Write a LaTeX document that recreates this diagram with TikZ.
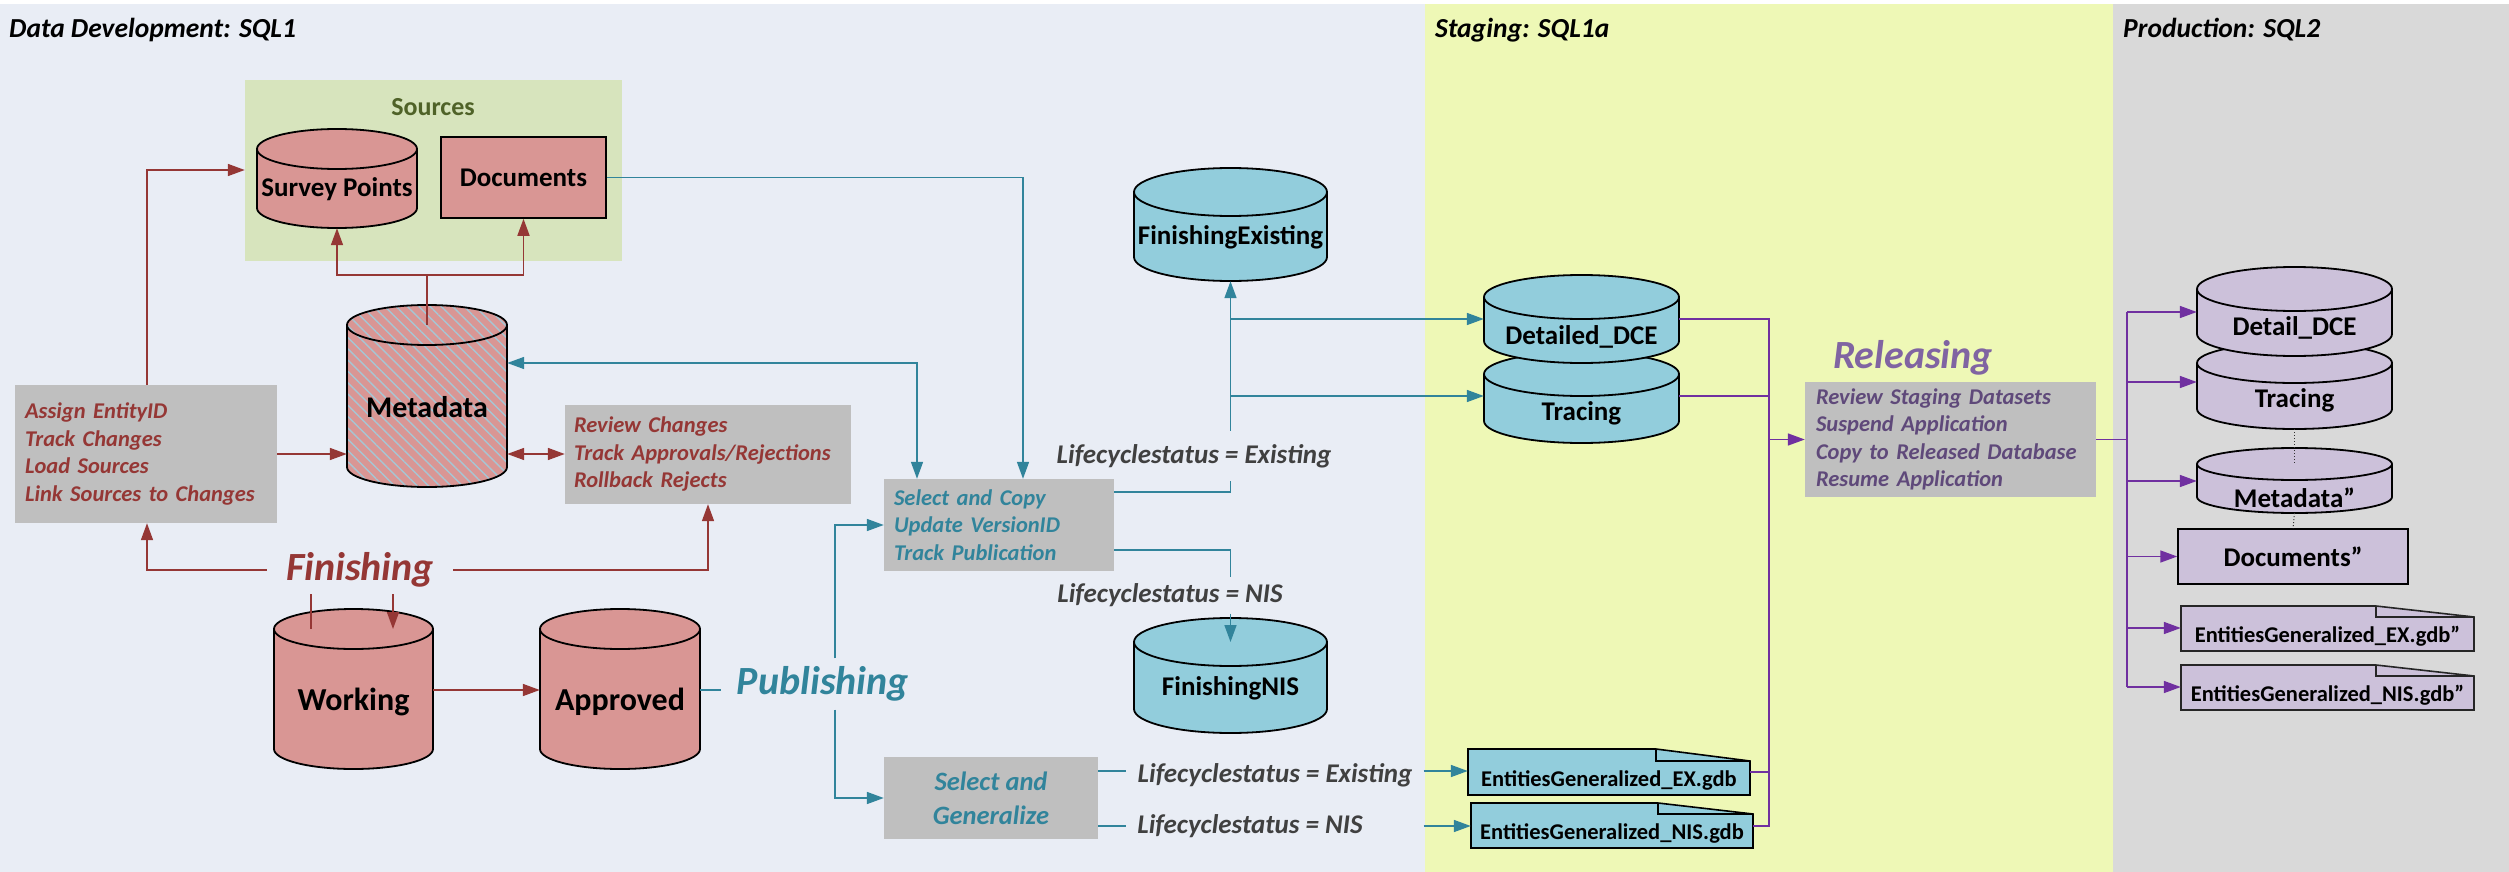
\documentclass[tikz,border=0pt]{standalone}
\usepackage{fontspec}
\setmainfont{Carlito}
\usetikzlibrary{arrows.meta,patterns.meta}

\definecolor{devbg}{HTML}{E9EDF5}
\definecolor{stagebg}{HTML}{EEF8B6}
\definecolor{prodbg}{HTML}{D9D9D9}
\definecolor{srcbg}{HTML}{D7E4BD}
\definecolor{srctxt}{HTML}{4F6228}
\definecolor{pinkc}{HTML}{D99694}
\definecolor{redc}{HTML}{953735}
\definecolor{hatchc}{HTML}{A6C6D4}
\definecolor{greyc}{HTML}{BFBFBF}
\definecolor{tealc}{HTML}{31849B}
\definecolor{bluec}{HTML}{92CDDC}
\definecolor{purc}{HTML}{7030A0}
\definecolor{lavc}{HTML}{CCC1DA}
\definecolor{relhead}{HTML}{8064A2}
\definecolor{reltxt}{HTML}{5F497A}
\definecolor{lblc}{HTML}{404040}

\tikzset{
  tip/.tip={Triangle[length=17pt,width=12pt]},
  redln/.style={draw=redc, line width=1.6pt},
  redar/.style={redln, -tip},
  redar2/.style={redln, tip-tip},
  tealln/.style={draw=tealc, line width=1.6pt},
  tealar/.style={tealln, -tip},
  tealar2/.style={tealln, tip-tip},
  purln/.style={draw=purc, line width=1.6pt},
  purar/.style={purln, -tip},
  dotln/.style={draw=black!80, line width=1pt, dotted},
  cylrim/.style={draw=black, line width=1.8pt},
  pinkbody/.style={fill=pinkc, draw=black, line width=1.8pt},
  bluebody/.style={fill=bluec, draw=black, line width=1.8pt},
  lavbody/.style={fill=lavc, draw=black, line width=1.8pt},
  hatchbody/.style={preaction={fill=pinkc},
    preaction={pattern={Lines[angle=-45,distance=8pt,line width=1.4pt]}, pattern color=hatchc},
    draw=black, line width=1.8pt},
  bluedoc/.style={fill=bluec, draw=black, line width=1.6pt},
  lavdoc/.style={fill=lavc, draw=black!85, line width=1.6pt},
  dbtxt/.style={font=\fontsize{27}{32}\selectfont\bfseries, inner sep=0},
  doctxt/.style={font=\fontsize{22.5}{27}\selectfont\bfseries, inner sep=0},
  title/.style={font=\fontsize{27.5}{33}\selectfont\bfseries\itshape, inner sep=0},
  greybox/.style={fill=greyc, inner ysep=0, align=left,
    font=\fontsize{22.5}{27.5}\selectfont\bfseries\itshape},
  phase/.style={font=\fontsize{40}{48}\selectfont\bfseries\itshape, inner ysep=0},
  lc/.style={font=\fontsize{27}{32}\selectfont\bfseries\itshape, text=lblc, inner sep=0},
  pinkbox/.style={fill=pinkc, draw=black, line width=1.5pt, inner sep=0,
    font=\fontsize{27}{32}\selectfont\bfseries},
  lavbox/.style={fill=lavc, draw=black, line width=1.5pt, inner sep=0,
    font=\fontsize{27}{32}\selectfont\bfseries},
}

% database cylinder: name, left x, right x, top y, bottom y, end radius, body style, text y, text
\newcommand{\dbcyl}[9]{%
  \pgfmathsetmacro\cylcx{(#2+#3)/2}%
  \pgfmathsetmacro\cylkx{0.5523*(#3-#2)/2}%
  \pgfmathsetmacro\cylky{0.5523*#6}%
  \pgfmathsetmacro\cylya{#4+#6}%
  \pgfmathsetmacro\cylyb{#5-#6}%
  \pgfmathsetmacro\cylw{#3-#2}%
  \pgfmathsetmacro\cylh{#5-#4}%
  \path[#7] (#2,\cylya) -- (#2,\cylyb)
     .. controls (#2,\cylyb+\cylky) and (\cylcx-\cylkx,#5) .. (\cylcx,#5)
     .. controls (\cylcx+\cylkx,#5) and (#3,\cylyb+\cylky) .. (#3,\cylyb)
     -- (#3,\cylya)
     .. controls (#3,\cylya-\cylky) and (\cylcx+\cylkx,#4) .. (\cylcx,#4)
     .. controls (\cylcx-\cylkx,#4) and (#2,\cylya-\cylky) .. (#2,\cylya) -- cycle;
  \draw[cylrim] (#2,\cylya)
     .. controls (#2,\cylya+\cylky) and (\cylcx-\cylkx,\cylya+#6) .. (\cylcx,\cylya+#6)
     .. controls (\cylcx+\cylkx,\cylya+#6) and (#3,\cylya+\cylky) .. (#3,\cylya);
  \node[inner sep=0, minimum width=\cylw pt, minimum height=\cylh pt] (#1) at (\cylcx,{(#4+#5)/2}) {};
  \coordinate (#1-ti) at (\cylcx,\cylya);
  \node[dbtxt] (#1-t) at (\cylcx,#8) {#9};
}

% dataset file with folded corner: name, x1, y1, x2, y2, fold x, fold y, style, text
\newcommand{\gdbdoc}[9]{%
  \pgfmathsetmacro\docw{#4-#2}%
  \pgfmathsetmacro\doch{#5-#3}%
  \path[#8] (#2,#3) -- (#6,#3) -- (#4,#7) -- (#4,#5) -- (#2,#5) -- cycle;
  \draw[#8, fill=none] (#6,#3) -- (#6,#7) -- (#4,#7);
  \node[inner sep=0, minimum width=\docw pt, minimum height=\doch pt] (#1) at ({(#2+#4)/2},{(#3+#5)/2}) {};
  \node[doctxt] (#1-t) at ({(#2+#4)/2},{(#7+#5)/2+2}) {#9};
}

\begin{document}
\begin{tikzpicture}[x=1pt,y=-1pt]
\useasboundingbox (0,0) rectangle (2509,872);
\fill[white] (0,0) rectangle (2509,872);
\fill[devbg] (0,4) rectangle (1425,872);
\fill[stagebg] (1425,4) rectangle (2113,872);
\fill[prodbg] (2113,4) rectangle (2509,872);

% section titles
\node[title, anchor=base west] (ttldev) at (9,38) {Data Development: SQL1};
\node[title, anchor=base west] (ttlstg) at (1435,38) {Staging: SQL1a};
\node[title, anchor=base west] (ttlprd) at (2123,38) {Production: SQL2};

% ---------- data development ----------
\node[fill=srcbg, minimum width=377pt, minimum height=181pt, inner sep=0] (sources) at (433.5,170.5) {};
\node[font=\fontsize{26}{31}\selectfont\bfseries, text=srctxt, inner sep=0] (srclbl) at (433,107) {Sources};
\dbcyl{survey}{257}{417}{129}{228}{20}{pinkbody}{189}{Survey Points}
\node[pinkbox, minimum width=165pt, minimum height=81pt] (docs) at (523.5,177.5) {Documents};
\dbcyl{meta}{347}{507}{305}{487}{20}{hatchbody}{407}{\fontsize{30}{36}\selectfont Metadata}

\node[greybox, text=redc, minimum height=138pt, text width=242pt, inner xsep=10pt] (assign) at (146,454)
  {Assign EntityID\\Track Changes\\Load Sources\\Link Sources to Changes};
\node[greybox, text=redc, minimum height=99pt, text width=268pt, inner xsep=9pt] (review) at (708,454.5)
  {Review Changes\\Track Approvals/Rejections\\Rollback Rejects};

\node[phase, text=redc, inner xsep=19pt, minimum height=48pt] (fin) at (360,570) {Finishing};
\dbcyl{work}{274}{433}{609}{769}{20}{pinkbody}{702}{\fontsize{32}{38}\selectfont Working}
\dbcyl{appr}{540}{700}{609}{769}{20}{pinkbody}{702}{\fontsize{32}{38}\selectfont Approved}

\node[phase, text=tealc, inner xsep=16pt, minimum height=51pt] (pub) at (823,684) {Publishing};
\node[greybox, text=tealc, minimum height=92pt, text width=210pt, inner xsep=10pt] (selcopy) at (999,525)
  {Select and Copy\\Update VersionID\\Track Publication};
\node[greybox, text=tealc, font=\fontsize{26.5}{34}\selectfont\bfseries\itshape, align=center,
  minimum width=214pt, minimum height=82pt, inner xsep=0] (selgen) at (991,798) {Select and\\Generalize};

\dbcyl{finex}{1134}{1327}{168}{281}{24}{bluebody}{237}{FinishingExisting}
\dbcyl{finnis}{1134}{1327}{618}{733}{24}{bluebody}{688}{FinishingNIS}

\node[lc, minimum height=50pt] (lcex1) at (1194,456) {Lifecyclestatus = Existing};
\node[lc, minimum height=36pt] (lcnis1) at (1170,595.5) {Lifecyclestatus = NIS};
\node[lc, inner xsep=11pt] (lcex2) at (1275,775) {Lifecyclestatus = Existing};
\node[lc, inner xsep=11pt] (lcnis2) at (1250,826) {Lifecyclestatus = NIS};

% ---------- staging ----------
\dbcyl{trac}{1484}{1679}{352}{443}{22}{bluebody}{413}{Tracing}
\dbcyl{dce}{1484}{1679}{275}{363}{22}{bluebody}{337}{Detailed\_DCE}
\gdbdoc{exdoc}{1468}{749}{1750}{795}{1656}{761}{bluedoc}{EntitiesGeneralized\_EX.gdb}
\gdbdoc{nisdoc}{1471}{803}{1753}{848}{1658}{814}{bluedoc}{EntitiesGeneralized\_NIS.gdb}
\node[phase, text=relhead] (relhd) at (1913,358) {Releasing};
\node[greybox, text=reltxt, minimum height=115pt, text width=269pt, inner xsep=11pt] (rel) at (1950.5,439.5)
  {Review Staging Datasets\\Suspend Application\\Copy to Released Database\\Resume Application};

% ---------- production ----------
\dbcyl{ptrac}{2197}{2392}{343}{429}{20}{lavbody}{400}{Tracing}
\dbcyl{pdce}{2197}{2392}{267}{356}{22}{lavbody}{328}{Detail\_DCE}
\dbcyl{pmeta}{2197}{2392}{448}{513}{16}{lavbody}{498}{Metadata”}
\node[lavbox, minimum width=230pt, minimum height=55pt] (pdocs) at (2293,556.5) {Documents”};
\gdbdoc{pex}{2181}{606}{2474}{651}{2376}{617}{lavdoc}{EntitiesGeneralized\_EX.gdb”}
\gdbdoc{pnis}{2181}{665}{2474}{710}{2376}{676}{lavdoc}{EntitiesGeneralized\_NIS.gdb”}

% ---------- finishing connectors ----------
\draw[redar] (assign.north -| 147,0) |- (sources.west |- 0,170);
\draw[redar] (assign.east |- 0,454) -- (meta.west |- 0,454);
\draw[redar2] (meta.east |- 0,454) -- (review.west |- 0,454);
\draw[redln] (meta-ti) -- (meta-ti |- 0,275) coordinate (mj);
\draw[redar] (mj) -| (survey.south);
\draw[redar] (mj) -| (docs.south);
\draw[redar] (fin.west) -| (assign.south -| 147,0);
\draw[redar] (fin.east) -| (review.south);
\draw[redln] (fin.south -| 311,0) -- (work-ti -| 311,0);
\draw[redar] (fin.south -| 393,0) -- (work-ti -| 393,0);
\draw[redar] (work.east |- 0,690) -- (appr.west |- 0,690);

% ---------- publishing connectors ----------
\draw[tealar] (docs.east) -| (selcopy.north -| 1023,0);
\draw[tealar2] (meta.east |- 0,363) -| (selcopy.north -| 917,0);
\draw[tealln] (appr.east |- 0,690) -- (pub.west |- 0,690);
\draw[tealar] (pub.north -| 835,0) |- (selcopy.west);
\draw[tealar] (pub.south -| 835,0) |- (selgen.west);
\draw[tealln] (selcopy.east |- 0,492) -| (lcex1.south -| finex.south);
\draw[tealar] (lcex1.north -| finex.south) -- (finex.south);
\draw[tealar] (finex.south |- 0,319) -- (dce.west |- 0,319);
\draw[tealar] (finex.south |- 0,396) -- (trac.west |- 0,396);
\draw[tealln] (selcopy.east |- 0,550) -| (lcnis1.north -| finnis-ti);
\draw[tealar] (lcnis1.south -| finnis-ti) -- (finnis-ti);
\draw[tealln] (selgen.east |- 0,771) -- (lcex2.west |- 0,771);
\draw[tealar] (lcex2.east |- 0,771) -- (exdoc.west |- 0,771);
\draw[tealln] (selgen.east |- 0,826) -- (lcnis2.west |- 0,826);
\draw[tealar] (lcex2.east |- 0,826) -- (nisdoc.west |- 0,826);

% ---------- releasing connectors ----------
\coordinate (busA) at (1769,826);
\draw[purln] (dce.east |- 0,319) -| (busA) -- (nisdoc.east |- busA);
\draw[purln] (trac.east |- 0,396) -- (busA |- 0,396);
\draw[purln] (exdoc.east |- 0,772) -- (busA |- 0,772);
\draw[purar] (busA |- rel.west) -- (rel.west);
\coordinate (busB) at (2127,687);
\draw[purln] (rel.east) -- (busB |- rel.east);
\draw[purln] (busB |- 0,312) -- (busB);
\draw[purar] (busB |- 0,312) -- (pdce.west |- 0,312);
\draw[purar] (busB |- 0,382) -- (ptrac.west |- 0,382);
\draw[purar] (busB |- 0,481) -- (pmeta.west |- 0,481);
\draw[purar] (busB |- pdocs.west) -- (pdocs.west);
\draw[purar] (busB |- 0,628) -- (pex.west |- 0,628);
\draw[purar] (busB) -- (pnis.west |- busB);

\draw[dotln] (ptrac.south) -- (pmeta-ti);
\draw[dotln] (pmeta.south) -- (pdocs.north);
\end{tikzpicture}
\end{document}
